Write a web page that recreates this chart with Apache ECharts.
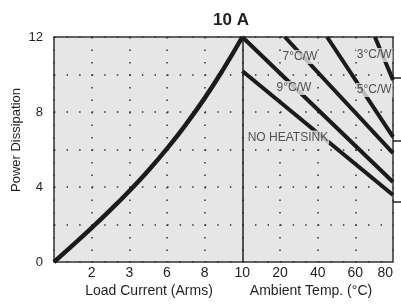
<!DOCTYPE html>
<html>
<head>
<meta charset="utf-8">
<script src="https://cdn.jsdelivr.net/npm/echarts@6/dist/echarts.min.js"></script>
<style>
    html, body { margin: 0; padding: 0; background: #fff; }
    #powerChart { width: 401px; height: 308px; }
</style>
</head>
<body>
<div id="powerChart"></div>
<script>
// x positions 0..9 : left half is load current, right half ambient temp
var xTickLabels = ['', '2', '3', '6', '8', '10', '20', '40', '60', '80'];
var yTickValues = [0, 4, 8, 12];

// power dissipation vs load current
var loadX = [0, 0.5, 1, 1.5, 2, 2.5, 3, 3.5, 4, 4.5, 5];
var loadPower = [0, 0.9, 1.82, 2.78, 3.79, 4.87, 6.05, 7.33, 8.74, 10.3, 12];

// derating lines, start / end points
var deratingNames = ['3°C/W', '5°C/W', '7°C/W', '9°C/W', 'NO HEATSINK'];
var deratingStartX = [8.52, 7.25, 6.13, 5, 5];
var deratingStartY = [12, 12, 12, 12, 10.19];
var deratingEndX = [9, 9, 9, 9, 9];
var deratingEndY = [9.71, 6.67, 5.81, 4.27, 3.57];

// where the names sit on the lines
var labelX = [8.5, 8.5, 6.53, 6.37, 6.21];
var labelY = [11.04, 9.17, 10.93, 9.28, 6.64];

// small marks outside the right edge
var rightTicks = [9.8, 6.45, 3.22];

var textColor = '#231f20';
var lineColor = '#1c1a1a';
var plotBg = '#e6e6e6';

function buildSeries() {
    var series = [];
    var loadData = [];
    for (var i = 0; i < loadX.length; i++) {
        loadData.push([loadX[i], loadPower[i]]);
    }
    series.push({
        name: 'load',
        type: 'line',
        data: loadData,
        smooth: true,
        symbol: 'none',
        lineStyle: { color: lineColor, width: 4.5 },
        markLine: {
            silent: true,
            symbol: 'none',
            label: { show: false },
            lineStyle: { color: '#222', width: 1.5, type: 'solid' },
            data: [{ xAxis: 5 }]
        },
        z: 3
    });
    for (var j = 0; j < deratingNames.length; j++) {
        series.push({
            name: deratingNames[j],
            type: 'line',
            data: [[deratingStartX[j], deratingStartY[j]], [deratingEndX[j], deratingEndY[j]]],
            symbol: 'none',
            lineStyle: { color: lineColor, width: 4 },
            z: 3
        });
    }
    var labelData = [];
    for (var k = 0; k < deratingNames.length; k++) {
        labelData.push({ value: [labelX[k], labelY[k]], name: deratingNames[k] });
    }
    series.push({
        name: 'labels',
        type: 'scatter',
        data: labelData,
        symbolSize: 0,
        silent: true,
        label: {
            show: true,
            position: 'inside',
            formatter: '{b}',
            color: '#2a2a2a',
            fontFamily: 'Liberation Sans',
            fontSize: 12,
            backgroundColor: plotBg,
            padding: [1, 1]
        },
        z: 5
    });
    return series;
}

function initChart() {
    var chart = echarts.init(document.getElementById('powerChart'));
    var option = {
        animation: false,
        title: [{
            text: '10 A',
            left: 231,
            top: 12,
            padding: 0,
            textAlign: 'center',
            textStyle: { fontFamily: 'Liberation Sans', fontSize: 17, fontWeight: 'bold', color: textColor }
        }, {
            text: 'Load Current (Arms)',
            left: 149,
            top: 284,
            padding: 0,
            textAlign: 'center',
            textStyle: { fontFamily: 'Liberation Sans', fontSize: 14, fontWeight: 'normal', color: textColor }
        }, {
            text: 'Ambient Temp. (°C)',
            left: 311,
            top: 284,
            padding: 0,
            textAlign: 'center',
            textStyle: { fontFamily: 'Liberation Sans', fontSize: 14, fontWeight: 'normal', color: textColor }
        }],
        graphic: [{
            type: 'text',
            x: 16,
            y: 140,
            rotation: Math.PI / 2,
            style: {
                text: 'Power Dissipation',
                align: 'center',
                verticalAlign: 'middle',
                font: '13px "Liberation Sans"',
                fill: textColor
            }
        }],
        grid: {
            left: 54,
            top: 37,
            right: 8,
            bottom: 46,
            show: true,
            backgroundColor: plotBg,
            borderColor: '#333',
            borderWidth: 1.5
        },
        xAxis: {
            type: 'value',
            min: 0,
            max: 9,
            interval: 1,
            axisLine: { show: false },
            axisTick: { show: false },
            axisLabel: {
                margin: 4,
                color: textColor,
                fontFamily: 'Liberation Sans',
                fontSize: 14,
                alignMaxLabel: 'right',
                formatter: function (v) { return xTickLabels[Math.round(v)]; }
            },
            splitLine: {
                show: true,
                lineStyle: { color: '#333', width: 1.5, type: [1.5, 11] }
            }
        },
        yAxis: [{
            type: 'value',
            min: 0,
            max: 12,
            interval: 2,
            axisLine: { show: false },
            axisTick: { show: false },
            axisLabel: {
                margin: 11,
                color: textColor,
                fontFamily: 'Liberation Sans',
                fontSize: 13,
                formatter: function (v) { return yTickValues.indexOf(v) >= 0 ? String(v) : ''; }
            },
            splitLine: {
                show: true,
                lineStyle: { color: '#333', width: 1.5, type: [1.5, 11.06] }
            }
        }, {
            type: 'value',
            position: 'right',
            min: 0,
            max: 12,
            axisLine: { show: false },
            axisLabel: { show: false },
            splitLine: { show: false },
            axisTick: {
                show: true,
                length: 9,
                customValues: rightTicks,
                lineStyle: { color: '#222', width: 1.5 }
            }
        }],
        series: buildSeries()
    };
    chart.setOption(option);
}

initChart();
</script>
</body>
</html>
